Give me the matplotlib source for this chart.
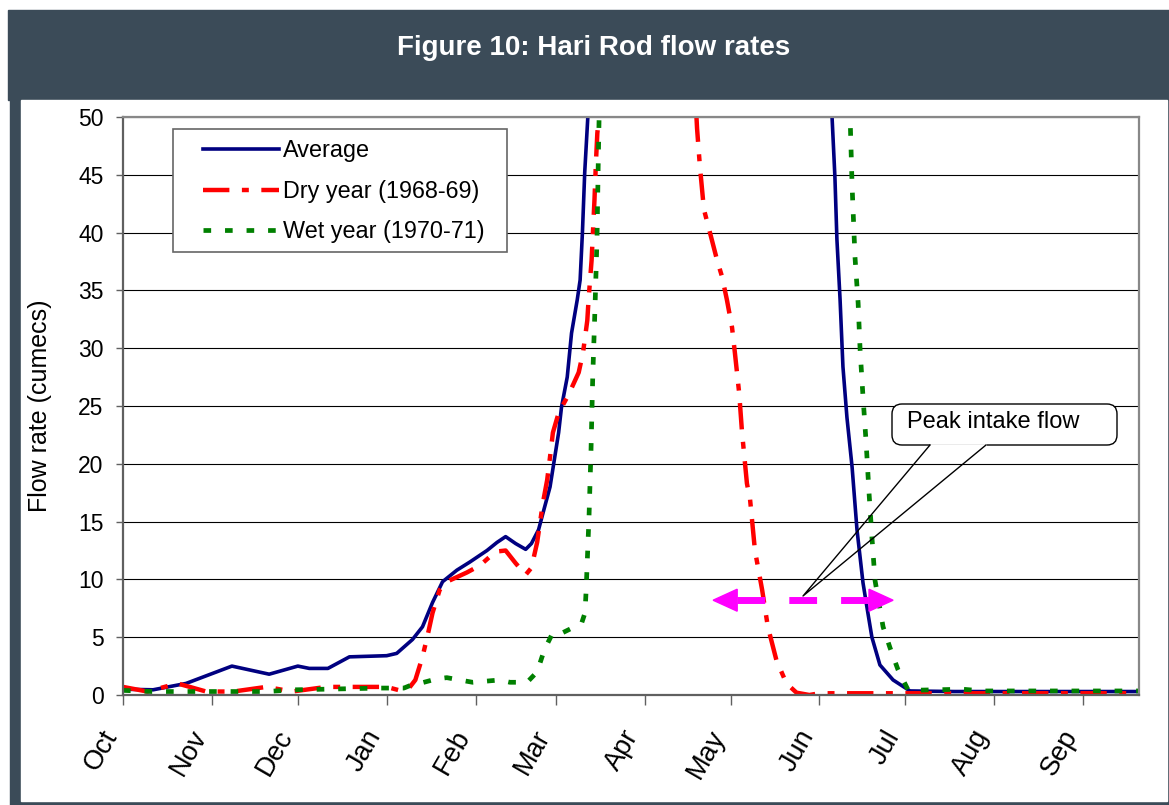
import matplotlib
matplotlib.use("Agg")
import matplotlib.pyplot as plt
from matplotlib.patches import Rectangle, FancyBboxPatch, Polygon
from matplotlib.lines import Line2D
from matplotlib.transforms import Affine2D

plt.rcParams['font.family'] = ['Liberation Sans', 'DejaVu Sans']
plt.rcParams['lines.scale_dashes'] = False

# month ticks, x in days from 1 Oct
months = ['Oct', 'Nov', 'Dec', 'Jan', 'Feb', 'Mar', 'Apr', 'May', 'Jun', 'Jul', 'Aug', 'Sep']
month_start = [0, 31, 61, 92, 123, 151, 182, 212, 243, 273, 304, 335]
x_end = 354.5

# values (peaks above 50 are off-scale guesses)
avg_day = [0, 10.5, 22, 38, 51, 61, 65, 71.5, 79, 92, 95.5, 101, 104.5, 108, 111.5,
           116.5, 121, 127, 130.5, 133.5, 137, 140.5, 142.5, 145, 146.5, 149, 152,
           153, 155, 156.5, 158.5, 159.5, 160.3, 161.1, 162.3, 166, 205, 246,
           247.4, 248.4, 249.1, 250.2, 251.2, 252.6, 254.4, 256.1, 258.2, 259.9,
           261.3, 264.1, 268.7, 274.6, 290, 320, 354.5]
avg_flow = [0.5, 0.45, 1.0, 2.5, 1.8, 2.5, 2.3, 2.3, 3.3, 3.4, 3.6, 4.8, 5.9, 8.0, 9.8,
            10.8, 11.5, 12.5, 13.2, 13.7, 13.1, 12.6, 13.1, 14.3, 15.7, 18.0, 22.7,
            24.9, 27.5, 31.3, 34.2, 35.9, 40.0, 45.2, 50.5, 70, 110, 60,
            50, 44.8, 39.4, 34.2, 28.4, 24.0, 19.7, 14.3, 9.7, 7.1,
            5.0, 2.6, 1.3, 0.35, 0.3, 0.3, 0.3]

dry_day = [0, 8.5, 19, 29, 38.5, 50, 59, 71, 92, 96.5, 99.5, 102, 104.5, 106.5, 108,
           110.5, 113, 120, 124.5, 130, 133.5, 137, 140.5, 142.5, 144.5, 145.5, 146.5,
           148, 149, 150, 152, 155.5, 159, 160.5, 162, 162.5, 163.5, 164, 164.5, 165,
           165.5, 166, 168, 184, 198, 200.3, 201.3, 202.7, 204.8, 207.3, 209, 210.7,
           212.5, 213.5, 215, 216, 217.7, 218.8, 220.5, 223, 225, 228, 231.5, 235,
           239.5, 243, 354.5]
dry_flow = [0.7, 0.3, 1.0, 0.3, 0.3, 0.7, 0.3, 0.7, 0.7, 0.4, 0.5, 1.3, 3.3, 5.4, 7.1,
            9.1, 9.8, 10.6, 11.2, 12.4, 12.5, 11.4, 10.4, 11.0, 13.2, 14.9, 16.6,
            18.6, 20.6, 22.7, 24.4, 26.0, 27.9, 29.6, 32.4, 34.4, 37.6, 40.2, 42.8, 46.0,
            48.6, 49.8, 65, 100, 60, 49, 45.7, 42.0, 40.0, 37.6, 36.2, 34.2,
            31.8, 29.6, 26.1, 22.7, 18.3, 16.9, 12.5, 9.1, 5.9, 3.0, 1.0, 0.2,
            0.0, 0.15, 0.15]

wet_day = [0, 10, 30, 50, 60, 70, 90, 98, 100, 103.5, 109.5, 113, 122, 131.5, 135, 141,
           144.5, 147, 150, 153.5, 160, 161.2, 161.6, 162.6, 163.3, 163.9, 164.7, 165.4,
           165.8, 166.1, 170, 215, 253, 253.7, 254.4, 255.4, 256.5, 257.2, 258.2, 259.3,
           260.3, 261.3, 262.4, 265.2, 267.6, 270.4, 274, 293, 300, 354.5]
wet_flow = [0.4, 0.3, 0.3, 0.3, 0.45, 0.5, 0.6, 0.6, 0.8, 1.0, 1.4, 1.5, 1.1, 1.3, 1.1, 1.1,
            2.0, 3.9, 5.4, 5.4, 6.2, 7.1, 9.1, 15.4, 21.2, 27.5, 33.6, 39.6,
            45.7, 49.7, 80, 200, 60, 50, 44.0, 37.9, 33.9, 29.8, 25.8, 21.8,
            17.5, 13.7, 9.9, 5.9, 4.1, 2.2, 0.4, 0.5, 0.35, 0.35]

peak_intake = 8.2
intake_from, intake_to = 205.9, 268.7

W, H = 1169, 805
fig = plt.figure(figsize=(W / 100, H / 100), dpi=100)
# pixel coords, origin top-left
px = Affine2D().scale(1, -1).translate(0, H).scale(0.01) + fig.dpi_scale_trans

dark = '#3b4b58'
fig.add_artist(Rectangle((8, 10), W - 8, 90, color=dark, transform=px, zorder=-5))
fig.add_artist(Rectangle((10, 88), W - 10, H - 88, color=dark, transform=px, zorder=-5))
fig.add_artist(Rectangle((21, 100), 1146, 701, color='white', transform=px, zorder=-4))
fig.text(594, 48, 'Figure 10: Hari Rod flow rates', transform=px, color='white',
         fontsize=20, fontweight='bold', ha='center', va='center')

ax = fig.add_axes([123 / W, (H - 695) / H, 1016 / W, 578 / H])
ax.set_xlim(0, x_end)
ax.set_ylim(0, 50)

avg_style = dict(color='#000080', lw=2.6)
dry_style = dict(color='#ff0000', lw=3.2, ls=(0, (19, 9, 5, 9)))
wet_style = dict(color='#008000', lw=3.4, ls=(0, (5.5, 10)))
ax.plot(avg_day, avg_flow, label='Average', **avg_style)
ax.plot(dry_day, dry_flow, label='Dry year (1968-69)', **dry_style)
ax.plot(wet_day, wet_flow, label='Wet year (1970-71)', **wet_style)

# peak intake arrow
head_len, head_h = 8.4, 0.95
ax.plot([intake_from + head_len, intake_to - head_len], [peak_intake, peak_intake],
        color='#ff00ff', lw=5, ls=(0, (20, 17.3)), solid_capstyle='butt')
for tip, base in [(intake_from, intake_from + head_len), (intake_to, intake_to - head_len)]:
    ax.add_patch(Polygon([(tip, peak_intake), (base, peak_intake + head_h),
                          (base, peak_intake - head_h)], closed=True, color='#ff00ff',
                         zorder=4))

ax.set_yticks(range(0, 51, 5))
ax.set_xticks(month_start)
# default rotation mode: the rotated box ends at the tick, like the original
ax.set_xticklabels(months, rotation=60, ha='right', va='top')
ax.tick_params(axis='x', direction='out', length=7, width=1, color='#606060',
               pad=15, labelsize=19.5)
ax.tick_params(axis='y', direction='out', length=5, width=1, color='#606060',
               pad=9, labelsize=16.5)
ax.yaxis.grid(True, color='black', lw=0.8)
ax.set_axisbelow(True)
for s in ax.spines.values():
    s.set_color('#888888')
    s.set_linewidth(1.6)
ax.spines['left'].set_color('#606060')
ax.spines['bottom'].set_color('#606060')
ax.set_ylabel('Flow rate (cumecs)', fontsize=18, labelpad=19)

# legend: frame drawn separately so it can be larger than the entries
frame = Rectangle((173, 129), 334, 123, facecolor='white', edgecolor='#666666',
                  lw=1.2, transform=px, zorder=5, clip_on=False)
ax.add_artist(frame)
leg = ax.legend(loc='upper left', bbox_to_anchor=(203, 139), bbox_transform=px,
                frameon=False, borderpad=0, borderaxespad=0, handlelength=3.25,
                handletextpad=0.18, labelspacing=0.76, fontsize=16.8)
leg.set_zorder(6)

# callout
fig.add_artist(FancyBboxPatch((892, 404), 225, 41,
                              boxstyle='round,pad=0,rounding_size=10',
                              facecolor='white', edgecolor='black', lw=1,
                              transform=px, zorder=5))
fig.add_artist(Line2D([931, 985], [445, 445], color='white', lw=2, transform=px, zorder=5))
fig.add_artist(Line2D([930, 803, 986], [445, 596, 445], color='black', lw=1,
                      transform=px, zorder=5))
fig.text(907, 422, 'Peak intake flow', transform=px, fontsize=17, ha='left',
         va='center', zorder=6)

fig.savefig('out.png', dpi=100, facecolor='white')
